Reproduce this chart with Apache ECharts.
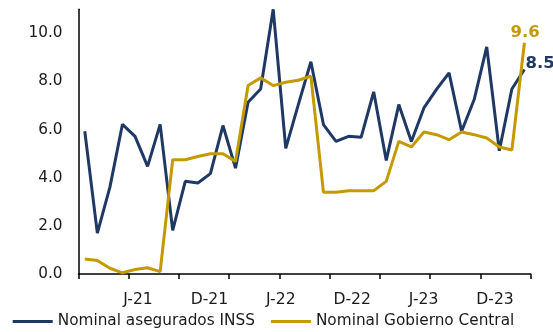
<!DOCTYPE html>
<html>
<head>
<meta charset="utf-8">
<script src="https://cdn.jsdelivr.net/npm/echarts@6/dist/echarts.min.js"></script>
<style>
html,body{margin:0;padding:0;background:#fff;}
#c{width:553px;height:332px;}
</style>
</head>
<body>
<div id="c"></div>
<script>
// Months Jan-2021 .. Dec-2023
const months = [
  'E-21','F-21','M-21','A-21','M-21','J-21','J-21','A-21','S-21','O-21','N-21','D-21',
  'E-22','F-22','M-22','A-22','M-22','J-22','J-22','A-22','S-22','O-22','N-22','D-22',
  'E-23','F-23','M-23','A-23','M-23','J-23','J-23','A-23','S-23','O-23','N-23','D-23'
];
const inss = [
  5.93, 1.70, 3.61, 6.22, 5.72, 4.47, 6.22, 1.81, 3.85, 3.78, 4.17, 6.17,
  4.40, 7.14, 7.69, 11.0, 5.22, 7.04, 8.82, 6.21, 5.51, 5.72, 5.68, 7.57,
  4.72, 7.04, 5.51, 6.90, 7.67, 8.36, 5.93, 7.25, 9.44, 5.12, 7.69, 8.50
];
const gobierno = [
  0.62, 0.56, 0.24, 0.05, 0.19, 0.26, 0.10, 4.75, 4.75, 4.88, 5.00, 5.00,
  4.68, 7.83, 8.15, 7.83, 7.97, 8.05, 8.22, 3.40, 3.40, 3.46, 3.46, 3.46,
  3.85, 5.51, 5.28, 5.90, 5.79, 5.58, 5.90, 5.79, 5.65, 5.28, 5.15, 9.61
];
const tickLabels = ['J-21','D-21','J-22','D-22','J-23','D-23'];
const seriesNames = ['Nominal asegurados INSS','Nominal Gobierno Central'];

// label slots for the date-label axis
const labelSlots = [];
for (let i = 0; i < 39; i++) {
  const k = (i - 5) / 6;
  labelSlots.push(Number.isInteger(k) && k >= 0 && k < tickLabels.length ? tickLabels[k] : '');
}

const FONT = 'DejaVu Sans';
const BLUE = '#1F3864';
const GOLD = '#C49A00';

const chart = echarts.init(document.getElementById('c'), null, {renderer: 'canvas'});
chart.setOption({
  animation: false,
  backgroundColor: '#fff',
  textStyle: {fontFamily: FONT},
  grid: {left: 78.5, right: 22.3, top: 9.3, bottom: 58},
  legend: {
    left: 12.7, top: 314, padding: 0,
    icon: 'rect', itemWidth: 40, itemHeight: 3, itemGap: 16,
    textStyle: {fontFamily: FONT, fontSize: 15.3, color: '#1a1a1a'},
    data: seriesNames
  },
  xAxis: [{
    type: 'category',
    data: months,
    boundaryGap: true,
    axisLine: {show: true, lineStyle: {color: '#000', width: 1.5}},
    axisTick: {show: true, interval: 3, length: 5, lineStyle: {color: '#000', width: 1.5}},
    axisLabel: {show: false},
    splitLine: {show: false}
  }, {
    type: 'category',
    data: labelSlots,
    position: 'bottom',
    boundaryGap: false,
    axisLine: {show: false},
    axisTick: {show: false},
    axisLabel: {show: true, interval: 0, margin: 18, fontFamily: FONT, fontSize: 15.6, color: '#1a1a1a'},
    splitLine: {show: false}
  }],
  yAxis: {
    type: 'value',
    min: 0, max: 11, interval: 2,
    axisLine: {show: true, lineStyle: {color: '#000', width: 1.5}},
    axisTick: {show: false},
    splitLine: {show: false},
    axisLabel: {
      margin: 16, fontFamily: FONT, fontSize: 15.3, color: '#1a1a1a',
      padding: [7, 0, 0, 0],
      formatter: v => (v > 10 ? '' : v.toFixed(1))
    }
  },
  series: [{
    name: seriesNames[0],
    type: 'line',
    data: inss,
    symbol: 'none',
    lineStyle: {color: BLUE, width: 3},
    itemStyle: {color: BLUE},
    endLabel: {
      show: true, formatter: p => p.value.toFixed(1),
      fontFamily: FONT, fontSize: 16.5, fontWeight: 'bold', color: BLUE,
      offset: [-7, -6]
    },
    z: 2
  }, {
    name: seriesNames[1],
    type: 'line',
    data: gobierno,
    symbol: 'none',
    lineStyle: {color: GOLD, width: 3},
    itemStyle: {color: GOLD},
    endLabel: {
      show: true, formatter: p => p.value.toFixed(1),
      fontFamily: FONT, fontSize: 16.5, fontWeight: 'bold', color: GOLD,
      offset: [-22, -10]
    },
    z: 3
  }]
});
</script>
</body>
</html>
